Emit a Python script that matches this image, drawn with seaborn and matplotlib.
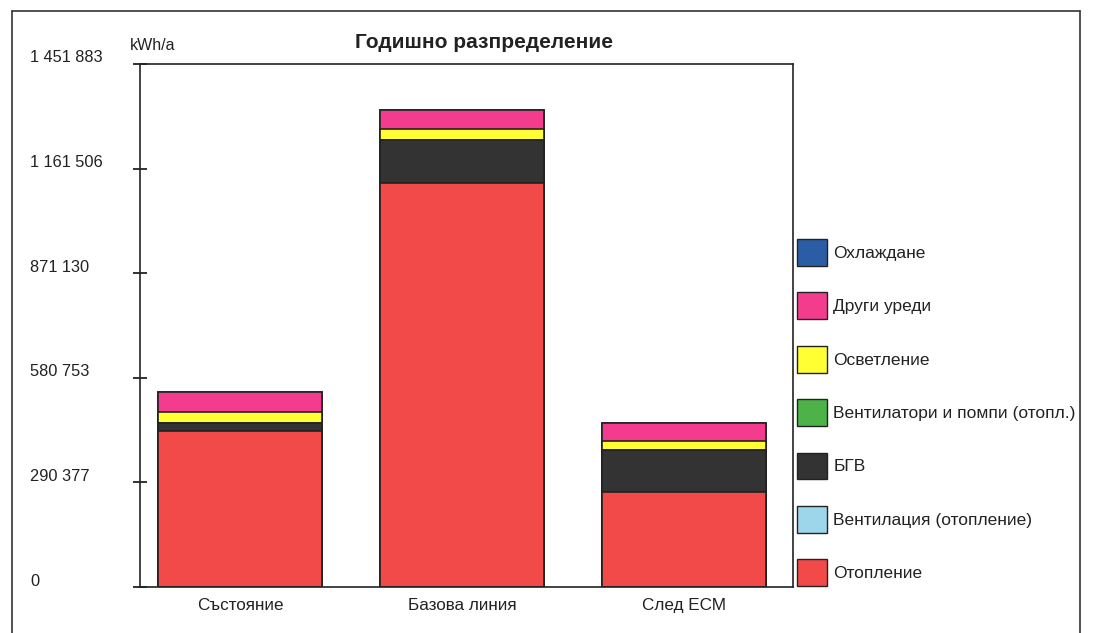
import matplotlib
matplotlib.use("Agg")
import matplotlib.pyplot as plt
import matplotlib.transforms as mtransforms
from matplotlib.patches import Patch
from matplotlib.lines import Line2D
import seaborn as sns
import numpy as np

# data (kWh/a)
categories = ["Състояние", "Базова линия", "След ЕСМ"]
heating = [433000, 1122800, 263400]        # Отопление
ventilation = [0, 0, 0]                   # Вентилация (отопление)
dhw = [21500, 117800, 116900]             # БГВ
fans_pumps = [0, 0, 0]                    # Вентилатори и помпи (отопл.)
lighting = [31500, 30600, 24200]          # Осветление
other = [55700, 52900, 52100]             # Други уреди
cooling = [0, 0, 0]                       # Охлаждане

yticks = [0, 290377, 580753, 871130, 1161506, 1451883]
ytick_labels = ["0", "290 377", "580 753", "871 130", "1 161 506", "1 451 883"]

# bottom -> top stacking order
series = [
    ("Отопление", heating, "#F24949"),
    ("Вентилация (отопление)", ventilation, "#9DD6EA"),
    ("БГВ", dhw, "#333333"),
    ("Вентилатори и помпи (отопл.)", fans_pumps, "#4DB348"),
    ("Осветление", lighting, "#FFFF33"),
    ("Други уреди", other, "#F43C8E"),
    ("Охлаждане", cooling, "#2B5DA6"),
]

sns.set_theme(style="white")
plt.rcParams["font.family"] = ["Liberation Sans", "DejaVu Sans"]

fig = plt.figure(figsize=(10.95, 6.33), dpi=100)
ax = fig.add_axes([140 / 1095, 1 - 587 / 633, 653 / 1095, 523 / 633])

# stacked bars: draw cumulative totals from the top layer down
cum = np.cumsum([np.array(s[1], dtype=float) for s in series], axis=0)
for i in range(len(series) - 1, -1, -1):
    sns.barplot(x=categories, y=cum[i], color=series[i][2], saturation=1,
                width=0.74, edgecolor="#222222", linewidth=1.2, ax=ax)

ax.set_xlim(-0.45, 2.49)
ax.set_ylim(0, yticks[-1])
ax.set_yticks(yticks)
ax.set_yticklabels([])
ax.tick_params(axis="y", direction="inout", length=10, width=1.2,
               color="#111111", left=True)
ax.tick_params(axis="x", length=0, pad=8, labelsize=12.3, labelcolor="#222222")
ax.set_xlabel("")
ax.set_ylabel("")
for sp in ax.spines.values():
    sp.set_color("#222222")
    sp.set_linewidth(1.2)

# y tick labels at far left, sitting slightly above the tick
trans = mtransforms.blended_transform_factory(fig.transFigure, ax.transData)
off = mtransforms.ScaledTranslation(0, 6 / 100, fig.dpi_scale_trans)
for v, lab in zip(yticks, ytick_labels):
    fig.text(30 / 1095, v, lab, transform=trans + off, ha="left",
             va="center", fontsize=11.8, color="#222222")

fig.text(130 / 1095, 1 - 45 / 633, "kWh/a", ha="left", va="center",
         fontsize=11.5, color="#222222")
fig.text(484 / 1095, 1 - 42 / 633, "Годишно разпределение", ha="center",
         va="center", fontsize=15, fontweight="bold", color="#222222")

handles = [Patch(facecolor=c, edgecolor="#222222", linewidth=1.0, label=n)
           for n, _, c in reversed(series)]
fig.legend(handles=handles, loc="upper left",
           bbox_to_anchor=(797 / 1095, 1 - 239 / 633), frameon=False,
           fontsize=12.5, handlelength=1.75, handleheight=2.0,
           labelspacing=1.53, handletextpad=0.35, borderpad=0,
           borderaxespad=0, labelcolor="#222222")

# outer frame (open at the bottom)
for xs, ys in [([12, 12], [633, 11]), ([12, 1080], [11, 11]), ([1080, 1080], [11, 633])]:
    fig.add_artist(Line2D([x / 1095 for x in xs], [1 - y / 633 for y in ys],
                          color="#333333", linewidth=1.2))

fig.savefig("out.png", dpi=100)
plt.close(fig)
